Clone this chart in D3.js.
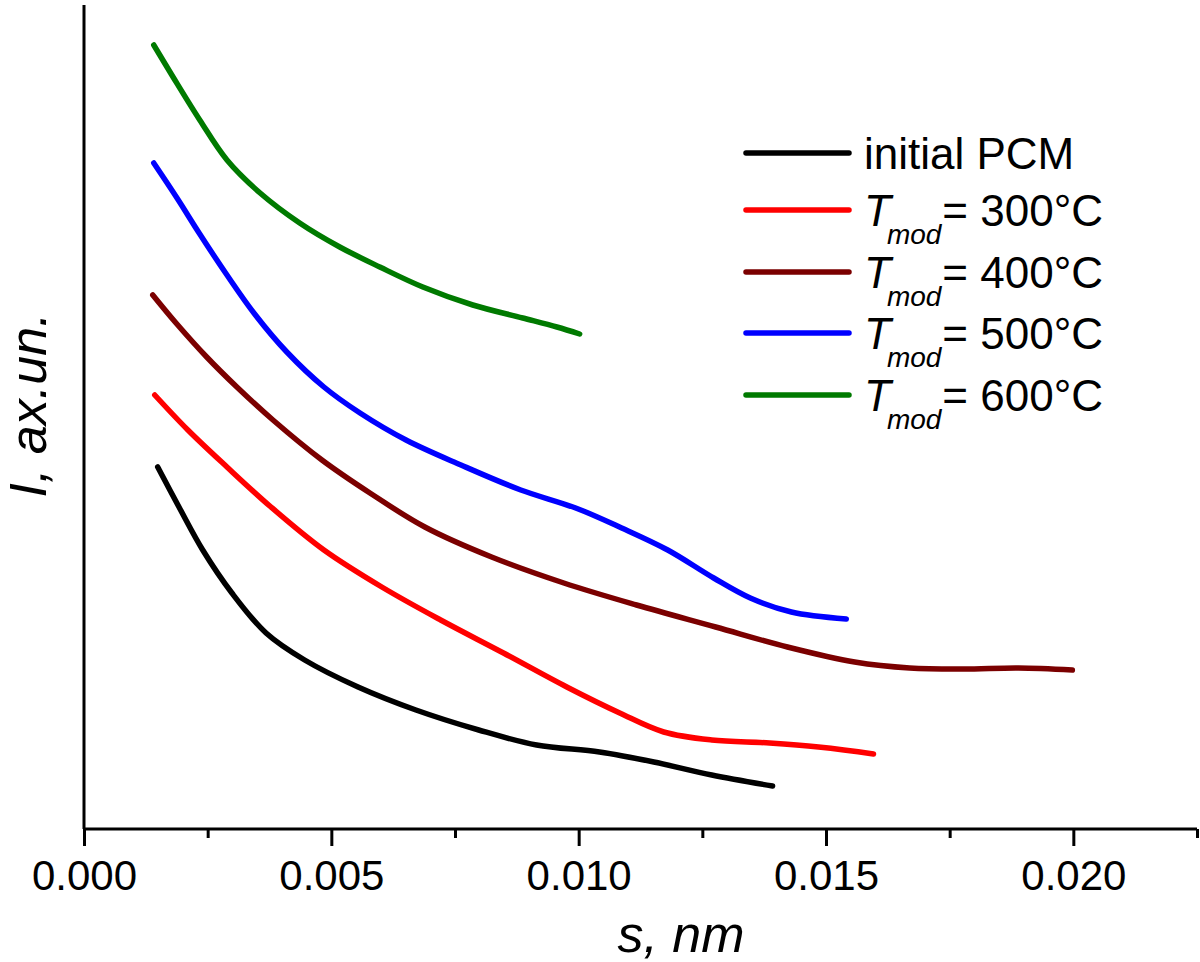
<!DOCTYPE html>
<html>
<head>
<meta charset="utf-8">
<script src="https://cdn.jsdelivr.net/npm/d3@7"></script>
<style>
  html, body { margin: 0; padding: 0; background: #fff; }
  svg { display: block; }
  text { font-family: "Liberation Sans", Arial, sans-serif; fill: #000; }
</style>
</head>
<body>
<svg id="chart" width="1200" height="962"></svg>
<script>
// ---- data (s in nm, I in arbitrary units) ----
const seriesNames = ["initial PCM", "300", "400", "500", "600"];
const seriesColors = ["#000000", "#ff0000", "#7b0000", "#0000ff", "#007a00"];

const sInitial = [0.00149,0.00192,0.00240,0.00299,0.00368,0.00446,0.00554,0.00671,0.00798,0.00915,0.01042,0.01152,0.01269,0.01392];
const iInitial = [3.62,3.22,2.79,2.36,1.96,1.69,1.42,1.19,0.99,0.84,0.77,0.67,0.54,0.43];

const s300 = [0.00143,0.00210,0.00289,0.00378,0.00485,0.00602,0.00721,0.00848,0.00976,0.01083,0.01172,0.01269,0.01386,0.01485,0.01596];
const i300 = [4.34,3.99,3.62,3.22,2.79,2.42,2.09,1.76,1.42,1.16,0.97,0.89,0.86,0.82,0.75];

const s400 = [0.00139,0.00186,0.00248,0.00309,0.00382,0.00481,0.00578,0.00689,0.00824,0.00970,0.01117,0.01277,0.01422,0.01558,0.01669,0.01778,0.01889,0.01998];
const i400 = [5.34,5.06,4.72,4.42,4.09,3.69,3.36,3.02,2.72,2.46,2.24,2.02,1.82,1.67,1.61,1.60,1.61,1.59];

const s500 = [0.00141,0.00188,0.00234,0.00289,0.00345,0.00410,0.00485,0.00558,0.00651,0.00762,0.00883,0.00994,0.01087,0.01180,0.01273,0.01347,0.01430,0.01541];
const i500 = [6.66,6.31,5.95,5.54,5.15,4.77,4.42,4.16,3.89,3.64,3.39,3.21,3.01,2.79,2.51,2.31,2.17,2.10];

const s600 = [0.00141,0.00180,0.00234,0.00289,0.00356,0.00436,0.00517,0.00598,0.00685,0.00786,0.00887,0.00956,0.01002];
const i600 = [7.84,7.52,7.09,6.69,6.36,6.06,5.82,5.62,5.42,5.24,5.11,5.02,4.95];

const xMajorTicks = [0.000, 0.005, 0.010, 0.015, 0.020];
const xMinorTicks = [0.0025, 0.0075, 0.0125, 0.0175, 0.0225];
const xLabel = "s, nm";
const yLabel = "I, ax.un.";

// ---- layout ----
const svg = d3.select("#chart");
const mLeft = 84, mRight = 1197, mTop = 5, mBottom = 829;

const x = d3.scaleLinear().domain([0, 0.0225]).range([mLeft, mRight]);
const y = d3.scaleLinear().domain([0, 8.24]).range([mBottom, mTop]);

const allS = [sInitial, s300, s400, s500, s600];
const allI = [iInitial, i300, i400, i500, i600];

// axes
const gx = svg.append("g").attr("transform", `translate(0,${mBottom})`)
  .call(d3.axisBottom(x).tickValues(xMajorTicks).tickSize(17).tickSizeOuter(0)
    .tickPadding(14).tickFormat(d3.format(".3f")));
gx.select(".domain").attr("stroke-width", 3).attr("d", `M${mLeft},0H${mRight}`);
gx.selectAll(".tick line").attr("stroke-width", 3);
gx.selectAll(".tick text").style("font-size", "42px").attr("font-family", null);

const gxm = svg.append("g").attr("transform", `translate(0,${mBottom})`)
  .call(d3.axisBottom(x).tickValues(xMinorTicks).tickSize(9).tickFormat(""));
gxm.select(".domain").remove();
gxm.selectAll(".tick line").attr("stroke-width", 3);

const gy = svg.append("g").attr("transform", `translate(${mLeft},0)`)
  .call(d3.axisLeft(y).tickValues([]).tickSizeOuter(0));
gy.select(".domain").attr("stroke-width", 3).attr("d", `M0,${mTop}V${mBottom}`);

// axis labels
svg.append("text").attr("x", 681).attr("y", 952).attr("text-anchor", "middle")
  .style("font-size", "52px").style("font-style", "italic").text(xLabel);
svg.append("text").attr("transform", "translate(46,405) rotate(-90)")
  .attr("text-anchor", "middle")
  .style("font-size", "52px").style("font-style", "italic").text(yLabel);

// lines
const line = d3.line().x(d => x(d[0])).y(d => y(d[1])).curve(d3.curveCatmullRom.alpha(0.5));
allS.forEach((sArr, k) => {
  const pts = sArr.map((s, j) => [s, allI[k][j]]);
  svg.append("path").datum(pts).attr("d", line)
    .attr("fill", "none").attr("stroke", seriesColors[k])
    .attr("stroke-width", 5.5).attr("stroke-linecap", "round").attr("stroke-linejoin", "round");
});

// legend
const legendY = [153, 210, 272, 333, 395];
seriesNames.forEach((name, k) => {
  const ly = legendY[k];
  svg.append("line").attr("x1", 746).attr("x2", 849).attr("y1", ly).attr("y2", ly)
    .attr("stroke", seriesColors[k]).attr("stroke-width", 5.5).attr("stroke-linecap", "round");
  const t = svg.append("text").attr("x", 864).attr("y", ly + 16).style("font-size", "44px");
  if (k === 0) {
    t.text(name);
  } else {
    t.append("tspan").style("font-style", "italic").text("T");
    t.append("tspan").style("font-style", "italic").style("font-size", "28px")
      .attr("dx", -4).attr("dy", 18).text("mod");
    t.append("tspan").attr("dy", -18).attr("dx", 1).text("= " + name + "°C");
  }
});
</script>
</body>
</html>
